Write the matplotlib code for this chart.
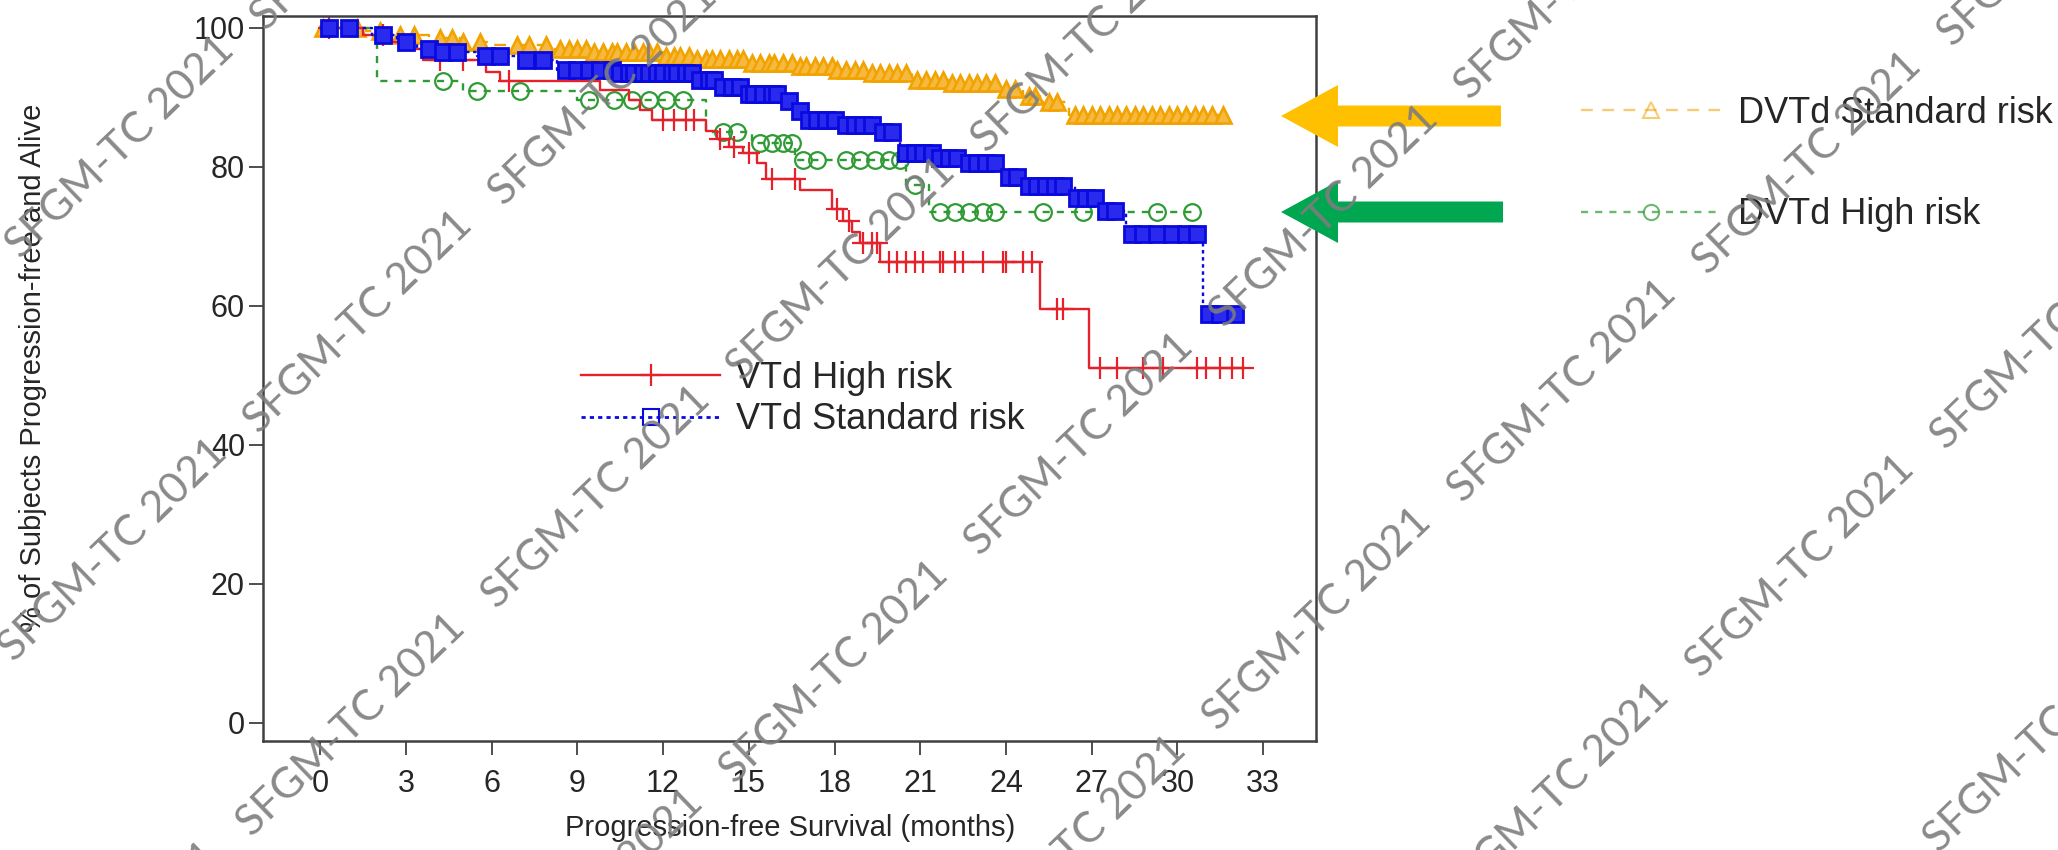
import numpy as np
import matplotlib
matplotlib.use('Agg')
import matplotlib.pyplot as plt
from matplotlib.lines import Line2D
from matplotlib.patches import FancyArrow

plt.rcParams['font.family'] = ['Liberation Sans', 'DejaVu Sans']

# Kaplan-Meier steps: drop times (months) and % after the drop
t_dvs = [0, 1.6, 2.6, 3.8, 4.9, 6.0, 8.0, 9.5, 12.0, 13.2, 15.0, 16.8, 18.0, 19.2, 20.7, 22.0, 23.8, 24.6, 25.2, 26.2]
s_dvs = [100, 99.5, 99.0, 98.5, 98.0, 97.5, 97.0, 96.5, 96.0, 95.5, 95.0, 94.5, 94.0, 93.5, 92.5, 92.0, 91.2, 90.2, 89.3, 87.5]
end_dvs = 31.6
cens_dvs = [0.1, 1.3, 2.1, 2.8, 3.3, 4.2, 4.6, 5.0, 5.6, 6.9, 7.3, 7.9, 8.4, 8.7, 9.0, 9.3, 9.6, 9.9,
            10.2, 10.4, 10.7, 11.0, 11.3, 11.5, 11.8, 12.1, 12.4, 12.6, 12.9, 13.2, 13.5, 13.7, 14.0,
            14.3, 14.6, 14.8, 15.1, 15.4, 15.7, 15.9, 16.2, 16.5, 16.8, 17.0, 17.3, 17.6, 17.9, 18.1,
            18.4, 18.7, 19.0, 19.3, 19.6, 19.9, 20.2, 20.5, 20.9, 21.2, 21.5, 21.8, 22.1, 22.4, 22.7,
            23.0, 23.3, 23.6, 24.0, 24.3, 24.8, 25.0, 25.5, 25.8, 26.4, 26.7, 27.0, 27.3, 27.6, 27.9,
            28.2, 28.5, 28.8, 29.1, 29.4, 29.7, 30.0, 30.3, 30.6, 30.9, 31.2, 31.6]

t_dvh = [0, 2.0, 5.0, 9.0, 13.5, 15.1, 16.6, 20.5, 21.3]
s_dvh = [100, 92.3, 90.9, 89.6, 85.0, 83.5, 81.0, 77.4, 73.5]
end_dvh = 30.5
cens_dvh = [4.3, 5.5, 7.0, 9.4, 10.3, 10.9, 11.5, 12.1, 12.7, 14.1, 14.6, 15.4, 15.8, 16.2, 16.5,
            16.9, 17.4, 18.4, 18.9, 19.4, 19.9, 20.3, 20.8, 21.7, 22.2, 22.7, 23.2, 23.6, 25.3, 26.7,
            29.3, 30.5]

t_vh = [0, 1.5, 2.5, 3.2, 3.6, 5.8, 6.3, 9.8, 10.8, 11.2, 11.6, 13.5, 13.9, 14.3, 14.8, 15.3, 15.6,
        16.8, 17.9, 18.3, 18.6, 18.9, 19.6, 25.2, 26.9]
s_vh = [100, 99.0, 98.0, 97.0, 95.3, 93.7, 92.3, 91.0, 89.6, 88.2, 86.8, 85.2, 84.0, 82.8, 82.0, 80.5,
        78.3, 76.7, 74.0, 72.2, 70.6, 69.1, 66.3, 59.6, 51.1]
end_vh = 32.3
cens_vh = [0.3, 2.2, 4.2, 5.0, 6.6, 12.0, 12.4, 12.8, 13.1, 14.0, 14.5, 15.0, 15.8, 16.6, 18.1, 18.5,
           19.0, 19.3, 19.5, 19.9, 20.2, 20.5, 20.8, 21.1, 21.7, 21.8, 22.2, 22.5, 23.2, 23.9, 24.0,
           24.6, 24.9, 25.8, 26.0, 27.3, 27.9, 28.8, 29.5, 30.7, 31.0, 31.5, 31.9, 32.3]

t_vs = [0, 1.8, 2.7, 3.4, 4.0, 5.5, 7.0, 8.3, 10.3, 13.2, 14.0, 15.0, 16.2, 16.6, 16.9, 18.3, 19.5,
        20.3, 21.5, 22.5, 23.9, 24.6, 26.4, 27.4, 28.2, 30.9]
s_vs = [100, 99.0, 98.0, 97.0, 96.5, 96.0, 95.3, 94.0, 93.5, 92.5, 91.5, 90.5, 89.5, 88.0, 86.8, 86.0,
        85.0, 82.0, 81.3, 80.5, 78.6, 77.3, 75.5, 73.6, 70.3, 58.8]
end_vs = 32.0
cens_vs = [0.3, 1.0, 2.2, 3.0, 3.8, 4.3, 4.8, 5.8, 6.3, 7.2, 7.8, 8.6, 9.0, 9.4, 9.8, 10.2, 10.5, 10.8,
           11.0, 11.3, 11.5, 11.8, 12.0, 12.3, 12.5, 12.8, 13.0, 13.3, 13.6, 13.8, 14.1, 14.4, 14.7,
           15.0, 15.2, 15.5, 15.8, 16.0, 16.4, 16.8, 17.1, 17.4, 17.7, 18.0, 18.4, 18.7, 19.0, 19.3,
           19.7, 20.0, 20.5, 20.8, 21.1, 21.4, 21.7, 22.0, 22.3, 22.7, 23.0, 23.3, 23.6, 24.1, 24.4,
           24.8, 25.1, 25.4, 25.7, 26.0, 26.5, 26.8, 27.1, 27.5, 27.8, 28.4, 28.8, 29.3, 29.8, 30.3,
           30.7, 31.1, 31.5, 32.0]

x_ticks = [0, 3, 6, 9, 12, 15, 18, 21, 24, 27, 30, 33]
y_ticks = [0, 20, 40, 60, 80, 100]

orange = '#F2A300'
green = '#2E9B35'
red = '#E5212C'
blue = '#0A0ADF'
txt = '#262626'


def km_at(times, surv, t):
    idx = np.searchsorted(times, t, side='right') - 1
    return np.asarray(surv)[idx]


W, H = 2058, 850
fig = plt.figure(figsize=(W / 100, H / 100), dpi=100)
ax = fig.add_axes([263 / W, (H - 741) / H, (1316 - 263) / W, (741 - 16) / H])

# series: steps, end, censor times, colour, dash, marker, size, edge width, marker fill
curves = [
    (t_dvs, s_dvs, end_dvs, cens_dvs, orange, (0, (5, 4)), '^', 12, 1.9, '#F6B940'),
    (t_dvh, s_dvh, end_dvh, cens_dvh, green, (0, (3, 3)), 'o', 12, 1.6, 'none'),
    (t_vh, s_vh, end_vh, cens_vh, red, '-', '+', 16, 1.6, 'none'),
    (t_vs, s_vs, end_vs, cens_vs, blue, (0, (1.5, 1.5)), 's', 12, 2.0, '#2a2aee'),
]
for t, s, end, cens, col, ls, mk, ms, mew, mfc in curves:
    ax.step(list(t) + [end], list(s) + [s[-1]], where='post', color=col, ls=ls, lw=1.7)
    ax.plot(cens, km_at(t, s, cens), ls='none', marker=mk, ms=ms, mfc=mfc, mec=col, mew=mew)

ax.set_xlim(-2.0, 34.85)
ax.set_ylim(-2.6, 101.7)
ax.set_xticks(x_ticks)
ax.set_yticks(y_ticks)
ax.tick_params(axis='both', length=10, width=1.3, color='#404040', labelsize=22, labelcolor=txt)
ax.tick_params(axis='x', pad=10)
ax.tick_params(axis='y', pad=3)
for sp in ax.spines.values():
    sp.set_color('#404040')
    sp.set_linewidth(1.8)

fig.text(33 / W, 1 - 368 / H, '% of Subjects Progression-free and Alive', rotation=90,
         ha='center', va='center', fontsize=21, color=txt)
fig.text(790 / W, 1 - 828 / H, 'Progression-free Survival (months)',
         ha='center', va='center', fontsize=21, color=txt)

h_vh = Line2D([], [], color=red, lw=1.7, marker='+', ms=16, mew=1.6)
h_vs = Line2D([], [], color=blue, ls=(0, (1.5, 1.5)), lw=2, marker='s', ms=12, mfc='none', mew=1.5)
ax.legend([h_vh, h_vs], ['VTd High risk', 'VTd Standard risk'], loc='center left',
          bbox_to_anchor=(581 / W, 1 - 399 / H), bbox_transform=fig.transFigure, frameon=False,
          fontsize=26, handlelength=3.85, handletextpad=0.45, labelspacing=0.18, borderpad=0,
          borderaxespad=0, labelcolor=txt)

h_dvs = Line2D([], [], color=orange, alpha=0.55, ls=(0, (5, 4)), lw=1.7, marker='^', ms=11, mfc='none', mew=1.5)
h_dvh = Line2D([], [], color=green, alpha=0.7, ls=(0, (3, 3)), lw=1.7, marker='o', ms=11, mfc='none', mew=1.5)
fig.legend([h_dvs, h_dvh], ['DVTd Standard risk', 'DVTd High risk'], loc='center left',
           bbox_to_anchor=(1581 / W, 1 - 164 / H), frameon=False, fontsize=26, handlelength=3.85,
           handletextpad=0.5, labelspacing=1.85, borderpad=0, borderaxespad=0, labelcolor=txt)

# overlay in pixel units for the arrows and the watermark
ov = fig.add_axes([0, 0, 1, 1], zorder=10)
ov.set_xlim(0, W)
ov.set_ylim(H, 0)
ov.axis('off')
ov.patch.set_alpha(0)

ov.add_patch(FancyArrow(1501, 116, -220, 0, width=21, head_width=62, head_length=57,
                        length_includes_head=True, color='#FFC000', lw=0))
ov.add_patch(FancyArrow(1503, 212, -222, 0, width=21, head_width=62, head_length=57,
                        length_includes_head=True, color='#00A650', lw=0))

for i in range(-3, 8):
    for j in range(-3, 8):
        px = 358 + 238 * i + 245 * j
        py = 322 + 175 * i - 228 * j
        if -200 < px < W + 200 and -200 < py < H + 200:
            ov.text(px, py, 'SFGM-TC 2021', rotation=44, ha='center', va='center',
                    fontsize=31, color='#7d7d7d', alpha=0.9, family=['Lato', 'DejaVu Sans'],
                    rotation_mode='anchor')

fig.savefig('out.png', dpi=100, facecolor='white')
